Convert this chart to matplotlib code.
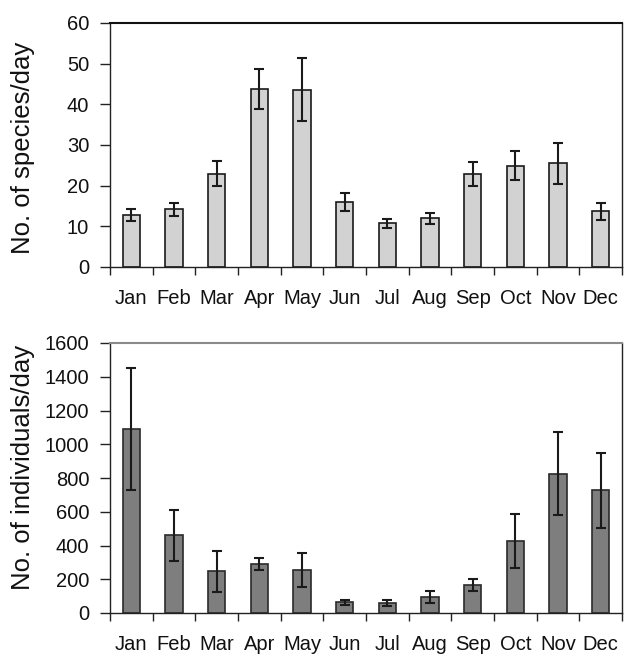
import matplotlib
matplotlib.use("Agg")
import matplotlib.pyplot as plt
import numpy as np

months = ["Jan", "Feb", "Mar", "Apr", "May", "Jun", "Jul", "Aug", "Sep", "Oct", "Nov", "Dec"]
species = [12.7, 14.2, 22.9, 43.8, 43.6, 16.0, 10.7, 12.0, 22.9, 24.9, 25.5, 13.7]
species_err = [1.5, 1.6, 3.1, 5.0, 7.8, 2.2, 1.1, 1.4, 3.0, 3.6, 5.0, 2.1]
individuals = [1088, 461, 248, 290, 254, 65, 59, 95, 166, 426, 826, 727]
individuals_err = [362, 151, 121, 37, 102, 15, 17, 38, 33, 158, 248, 221]

plt.rcParams['font.family'] = ['Liberation Sans', 'DejaVu Sans']

W, H = 624, 655
fig = plt.figure(figsize=(W / 100, H / 100), dpi=100)

def axpos(l, r, t, b):
    return [l / W, 1 - b / H, (r - l) / W, (b - t) / H]

ax1 = fig.add_axes(axpos(110, 622, 23, 267))
ax2 = fig.add_axes(axpos(110, 622, 343, 613))

x = np.arange(len(months))
TICK_FS = 14.5

def style(ax, ylim, step, top_color):
    ax.set_xlim(-0.5, len(months) - 0.5)
    ax.set_ylim(0, ylim)
    ax.set_yticks(np.arange(0, ylim + 1, step))
    ax.set_xticks(np.arange(-0.5, len(months), 1.0))
    ax.set_xticklabels([])
    ax.set_xticks(x, minor=True)
    ax.set_xticklabels(months, minor=True)
    ax.tick_params(axis='x', which='major', direction='out', length=6, width=1, color='#222222')
    ax.tick_params(axis='x', which='minor', length=0, pad=15.5, labelsize=TICK_FS, labelcolor='#111111')
    ax.tick_params(axis='y', direction='out', length=7, width=1, pad=8, labelsize=TICK_FS, labelcolor='#111111', color='#222222')
    for s in ['left', 'bottom', 'right']:
        ax.spines[s].set_color('#222222')
        ax.spines[s].set_linewidth(1)
    ax.spines['top'].set_color(top_color)
    ax.spines['top'].set_linewidth(1.5)

ax1.bar(x, species, width=0.41, color='#d2d2d2', edgecolor='#1a1a1a', linewidth=1.2, zorder=2)
ax1.errorbar(x, species, yerr=species_err, fmt='none', ecolor='#1a1a1a', elinewidth=1.5, capsize=3.5, capthick=1.5, zorder=3)
style(ax1, 60, 10, '#111111')

ax2.bar(x, individuals, width=0.41, color='#7e7e7e', edgecolor='#2a2a2a', linewidth=1.2, zorder=2)
ax2.errorbar(x, individuals, yerr=individuals_err, fmt='none', ecolor='#1a1a1a', elinewidth=1.5, capsize=3.5, capthick=1.5, zorder=3)
style(ax2, 1600, 200, '#8a8a8a')

fig.text(23 / W, 1 - 148 / H, "No. of species/day", rotation=90, ha='center', va='center',
         fontsize=18.5, color='#111111')
fig.text(23 / W, 1 - 467 / H, "No. of individuals/day", rotation=90, ha='center', va='center',
         fontsize=18.5, color='#111111')

fig.savefig("out.png", dpi=100)
